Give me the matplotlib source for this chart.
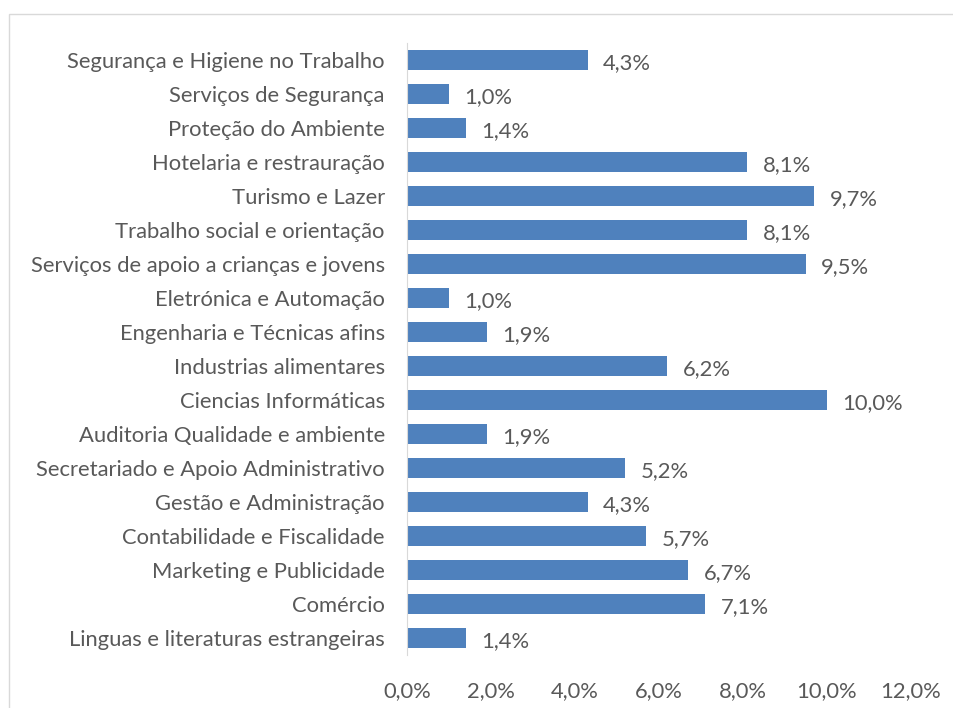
import matplotlib
matplotlib.use('Agg')
import matplotlib.pyplot as plt
from matplotlib.patches import Rectangle

# categorias de cima para baixo
categorias = [
    'Segurança e Higiene no Trabalho',
    'Serviços de Segurança',
    'Proteção do Ambiente',
    'Hotelaria e restrauração',
    'Turismo e Lazer',
    'Trabalho social e orientação',
    'Serviços de apoio a crianças e jovens',
    'Eletrónica e Automação',
    'Engenharia e Técnicas afins',
    'Industrias alimentares',
    'Ciencias Informáticas',
    'Auditoria Qualidade e ambiente',
    'Secretariado e Apoio Administrativo',
    'Gestão e Administração',
    'Contabilidade e Fiscalidade',
    'Marketing e Publicidade',
    'Comércio',
    'Linguas e literaturas estrangeiras',
]
valores = [0.043, 0.010, 0.014, 0.081, 0.097, 0.081, 0.095, 0.010, 0.019,
           0.062, 0.100, 0.019, 0.052, 0.043, 0.057, 0.067, 0.071, 0.014]
ticks = [0.0, 0.02, 0.04, 0.06, 0.08, 0.10, 0.12]

plt.rcParams['font.family'] = ['Lato', 'DejaVu Sans']
cinza = '#595959'
tam = 15.8

fig = plt.figure(figsize=(9.54, 7.08), dpi=100)
fig.patches.append(Rectangle((9 / 954, -0.1), 1.2, 1 - 14 / 708 + 0.1,
                             transform=fig.transFigure, fill=False,
                             edgecolor='#d9d9d9', linewidth=1))
ax = fig.add_axes([407 / 954, 1 - 655 / 708, (911 - 407) / 954, (655 - 43) / 708])

pos = list(range(len(categorias)))
ax.barh(pos, valores, height=0.59, color='#4F81BD')
ax.set_ylim(len(categorias) - 0.5, -0.5)
ax.set_xlim(0, 0.12)
ax.set_yticks(pos)
ax.set_yticklabels(categorias)
ax.set_xticks(ticks)
ax.set_xticklabels([('%.1f%%' % (t * 100)).replace('.', ',') for t in ticks])
ax.tick_params(axis='both', length=0, colors=cinza, labelsize=tam)
ax.tick_params(axis='y', pad=16)
ax.tick_params(axis='x', pad=19)

for p, v in zip(pos, valores):
    ax.annotate(('%.1f%%' % (v * 100)).replace('.', ','), (v, p),
                xytext=(11, -2), textcoords='offset points', va='center',
                ha='left', color=cinza, fontsize=tam)

for s in ['top', 'right', 'bottom']:
    ax.spines[s].set_visible(False)
ax.spines['left'].set_color('#d9d9d9')

fig.savefig('out.png', dpi=100)
